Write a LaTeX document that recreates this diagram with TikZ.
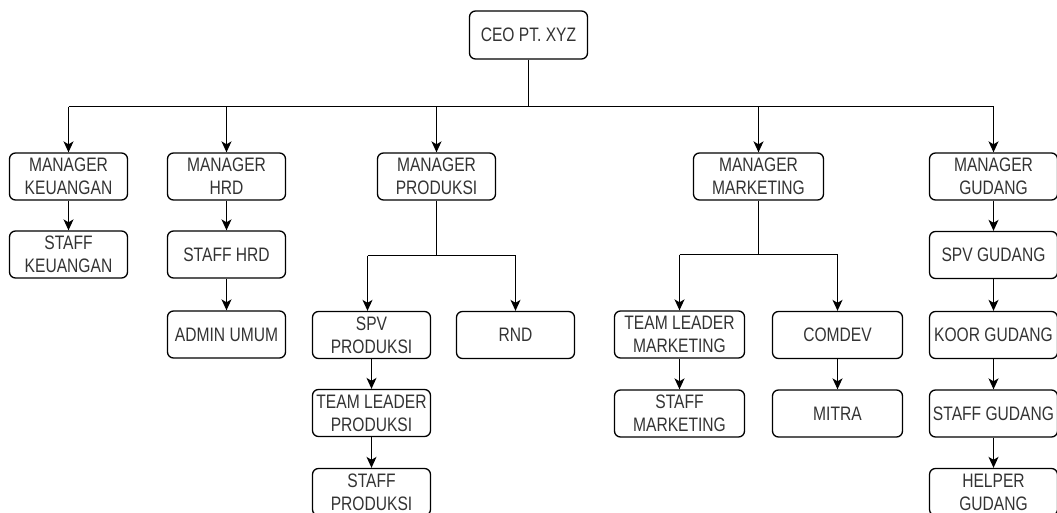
\documentclass[tikz,border=0pt]{standalone}
\usepackage{fontspec}
\setmainfont{Liberation Sans}[FakeStretch=0.8]
\usetikzlibrary{arrows.meta}
\definecolor{txt}{HTML}{333333}
\begin{document}
\begin{tikzpicture}[x=1pt,y=-1pt,
  box/.style={draw, line width=1.3pt, rounded corners=6pt, text=txt, align=center,
    inner sep=0pt, minimum height=47pt, minimum width=118pt,
    font=\fontsize{19.5}{23}\selectfont},
  wbox/.style={box, minimum width=130pt},
  gbox/.style={box, minimum width=128pt},
  arr/.style={-{Stealth[length=11pt,width=10pt,inset=3pt]}, line width=1.3pt},
  ln/.style={line width=1.3pt}]
\clip (0,0) rectangle (1057,513);
\useasboundingbox (0,0) rectangle (1057,513);
% top
\node[box, minimum height=48pt] (ceo) at (528.5,35) {CEO PT. XYZ};
% managers
\node[box] (mk) at (68.5,176.5) {MANAGER\\KEUANGAN};
\node[box] (mh) at (226.5,176.5) {MANAGER\\HRD};
\node[box] (mp) at (436.5,176.5) {MANAGER\\PRODUKSI};
\node[wbox] (mm) at (758.5,176.5) {MANAGER\\MARKETING};
\node[gbox] (mg) at (993.5,176.5) {MANAGER\\GUDANG};
% keuangan / hrd
\node[box] (sk) at (68.5,254.5) {STAFF\\KEUANGAN};
\node[box] (sh) at (226.5,254.5) {STAFF HRD};
\node[box] (au) at (226.5,334.5) {ADMIN UMUM};
% produksi
\node[box] (spv) at (371.5,335) {SPV\\PRODUKSI};
\node[box] (rnd) at (515.5,335) {RND};
\node[box] (tlp) at (371.5,413) {TEAM LEADER\\PRODUKSI};
\node[box] (stp) at (371.5,492) {STAFF\\PRODUKSI};
% marketing
\node[wbox] (tlm) at (679.5,334.5) {TEAM LEADER\\MARKETING};
\node[wbox] (cd) at (837.5,335) {COMDEV};
\node[wbox] (stm) at (679.5,413.5) {STAFF\\MARKETING};
\node[wbox] (mit) at (837.5,413.5) {MITRA};
% gudang
\node[gbox] (sg) at (993.5,255) {SPV GUDANG};
\node[gbox] (kg) at (993.5,335) {KOOR GUDANG};
\node[gbox] (stg) at (993.5,413.5) {STAFF GUDANG};
\node[gbox] (hg) at (993.5,492) {HELPER\\GUDANG};
% CEO to managers
\draw[ln] (ceo.south) -- ++(0,47) coordinate (b0);
\draw[ln] (mk.north |- b0) -- (mg.north |- b0);
\foreach \m in {mk,mh,mp,mm,mg}
  \draw[arr] (\m.north |- b0) -- (\m.north);
% produksi branch
\draw[ln] (mp.south) -- ++(0,55) coordinate (b1);
\coordinate (spvin) at ([xshift=-4pt]spv.north);
\draw[ln] (spvin |- b1) -- (rnd.north |- b1);
\draw[arr] (spvin |- b1) -- (spvin);
\draw[arr] (rnd.north |- b1) -- (rnd.north);
% marketing branch
\draw[ln] (mm.south) -- ++(0,54) coordinate (b2);
\draw[ln] (tlm.north |- b2) -- (cd.north |- b2);
\draw[arr] (tlm.north |- b2) -- (tlm.north);
\draw[arr] (cd.north |- b2) -- (cd.north);
% chains
\draw[arr] (mk) -- (sk);
\draw[arr] (mh) -- (sh);
\draw[arr] (sh) -- (au);
\draw[arr] (spv) -- (tlp);
\draw[arr] (tlp) -- (stp);
\draw[arr] (tlm) -- (stm);
\draw[arr] (cd) -- (mit);
\draw[arr] (mg) -- (sg);
\draw[arr] (sg) -- (kg);
\draw[arr] (kg) -- (stg);
\draw[arr] (stg) -- (hg);
\end{tikzpicture}
\end{document}
